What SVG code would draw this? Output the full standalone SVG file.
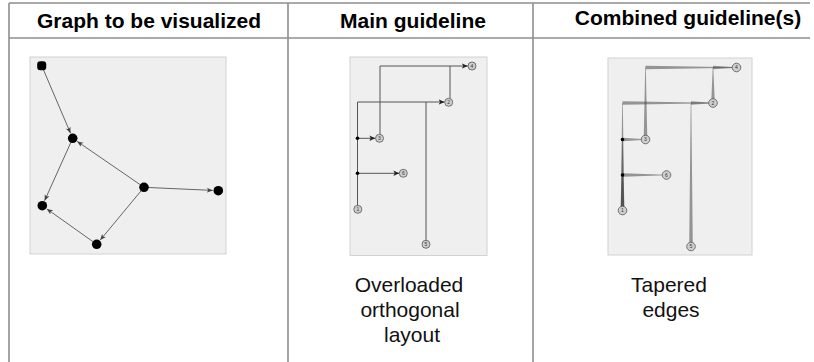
<svg xmlns="http://www.w3.org/2000/svg" width="814" height="362" viewBox="0 0 814 362">
<style>
.grid{stroke:#8e8e8e;stroke-width:1.6;fill:none}
.hdr{font-family:"Liberation Sans",Arial,sans-serif;font-weight:bold;font-size:21px;fill:#000;text-anchor:middle}
.cap{font-family:"Liberation Sans",Arial,sans-serif;font-size:21px;fill:#111;text-anchor:middle}
.panel{fill:#efefef;stroke:#d2d2d2;stroke-width:1}
.e1{stroke:#666;stroke-width:1;fill:none;marker-end:url(#a1)}
.e2{stroke:#555;stroke-width:1;fill:none}
.ea{marker-end:url(#a2)}
.n1{fill:#000}
.n2{fill:#cfcfcf;stroke:#555;stroke-width:0.8}
.lbl{font-family:"Liberation Sans",Arial,sans-serif;font-size:5px;fill:#333;text-anchor:middle}
.tp{fill:#3a3a3a;fill-opacity:0.5}
</style>
<defs>
<marker id="a1" markerUnits="userSpaceOnUse" markerWidth="7" markerHeight="6" refX="6" refY="3" orient="auto">
<path d="M0,0.5 L6,3 L0,5.5 L1.5,3 z" fill="#444"/>
</marker>
<marker id="a2" markerUnits="userSpaceOnUse" markerWidth="7" markerHeight="6" refX="6" refY="3" orient="auto">
<path d="M0,0.3 L6,3 L0,5.7 L1.5,3 z" fill="#222"/>
</marker>
</defs>
<g id="table">
<line class="grid" x1="9" y1="3" x2="810" y2="3"/>
<line class="grid" x1="9" y1="38" x2="810" y2="38"/>
<line class="grid" x1="9" y1="3" x2="9" y2="362"/>
<line class="grid" x1="288" y1="3" x2="288" y2="362"/>
<line class="grid" x1="533" y1="3" x2="533" y2="362"/>
<text class="hdr" x="149" y="28">Graph to be visualized</text>
<text class="hdr" x="413" y="28">Main guideline</text>
<text class="hdr" x="688" y="25">Combined guideline(s)</text>
<text class="cap" x="409" y="292">Overloaded</text>
<text class="cap" x="410" y="317">orthogonal</text>
<text class="cap" x="412" y="342">layout</text>
<text class="cap" x="669" y="292">Tapered</text>
<text class="cap" x="671" y="317">edges</text>
</g>
<g id="panel1">
<rect class="panel" x="30" y="57" width="196" height="197"/>
<g id="p1-connectors">
<line class="e1" x1="41.7" y1="65.7" x2="70.5" y2="133.2"/>
<line class="e1" x1="144" y1="187.3" x2="77.2" y2="141.4"/>
<line class="e1" x1="72.7" y1="138.3" x2="44.6" y2="200.7"/>
<line class="e1" x1="144" y1="187.3" x2="212.8" y2="190.4"/>
<line class="e1" x1="144" y1="187.3" x2="100.2" y2="240.1"/>
<line class="e1" x1="96.7" y1="244.3" x2="46.8" y2="208.9"/>
</g>
<g id="p1-nA"><rect class="n1" x="37.2" y="61.2" width="9" height="9" rx="3"/></g>
<g id="p1-nB"><circle class="n1" cx="72.7" cy="138.3" r="4.8"/></g>
<g id="p1-nC"><circle class="n1" cx="42.3" cy="205.7" r="4.8"/></g>
<g id="p1-nD"><circle class="n1" cx="144" cy="187.3" r="4.8"/></g>
<g id="p1-nE"><circle class="n1" cx="218.3" cy="190.7" r="4.8"/></g>
<g id="p1-nF"><circle class="n1" cx="96.7" cy="244.3" r="4.8"/></g>
</g>
<g id="panel2">
<rect class="panel" x="350" y="57" width="137" height="198.5"/>
<g id="p2-connectors">
<path class="e2 ea" d="M380,134.5 V66 H467.8"/>
<path class="e2" d="M450,98.5 V66"/>
<path class="e2 ea" d="M357.5,205.5 V102 H444.6"/>
<path class="e2" d="M426,240.5 V102"/>
<path class="e2 ea" d="M357.5,138.3 H375.3"/>
<path class="e2 ea" d="M357.5,173.3 H399.3"/>
<circle cx="357.5" cy="138.3" r="1.8" fill="#000"/>
<circle cx="357.5" cy="173.3" r="1.8" fill="#000"/>
</g>
<g id="p2-n4"><circle class="n2" cx="472" cy="66" r="4"/><text class="lbl" x="472" y="67.8">4</text></g>
<g id="p2-n2"><circle class="n2" cx="448.7" cy="102.3" r="4"/><text class="lbl" x="448.7" y="104.1">2</text></g>
<g id="p2-n3"><circle class="n2" cx="379.5" cy="138.3" r="4"/><text class="lbl" x="379.5" y="140.1">3</text></g>
<g id="p2-n6"><circle class="n2" cx="403.3" cy="173.3" r="4"/><text class="lbl" x="403.3" y="175.1">6</text></g>
<g id="p2-n1"><circle class="n2" cx="357.8" cy="209.3" r="4"/><text class="lbl" x="357.8" y="211.1">1</text></g>
<g id="p2-n5"><circle class="n2" cx="426" cy="244.3" r="4"/><text class="lbl" x="426" y="246.1">5</text></g>
</g>
<g id="panel3">
<rect class="panel" x="608" y="58" width="144" height="197"/>
<g id="p3-connectors">
<polygon class="tp" points="620.7,210.5 624.3,210.5 622.8,103 622.2,103"/>
<polygon class="tp" points="622.5,101.2 622.5,104.8 713,103.3 713,102.7"/>
<polygon class="tp" points="620.7,210.5 624.3,210.5 622.8,139.5 622.2,139.5"/>
<polygon class="tp" points="622.5,137.7 622.5,141.3 645.5,139.8 645.5,139.2"/>
<polygon class="tp" points="620.7,210.5 624.3,210.5 622.8,175 622.2,175"/>
<polygon class="tp" points="622.5,173.2 622.5,176.8 666.5,175.3 666.5,174.7"/>
<polygon class="tp" points="643.7,139.5 647.3,139.5 645.8,67.5 645.2,67.5"/>
<polygon class="tp" points="645.5,65.7 645.5,69.3 736.5,67.8 736.5,67.2"/>
<polygon class="tp" points="711.2,103 714.8,103 713.3,67.5 712.7,67.5"/>
<polygon class="tp" points="713,65.7 713,69.3 736.5,67.8 736.5,67.2"/>
<polygon class="tp" points="689.2,246.5 692.8,246.5 691.3,103 690.7,103"/>
<polygon class="tp" points="691,101.2 691,104.8 713,103.3 713,102.7"/>
<circle cx="622.5" cy="139.5" r="1.8" fill="#000"/>
<circle cx="622.5" cy="175" r="1.8" fill="#000"/>
</g>
<g id="p3-n4"><circle class="n2" cx="736.5" cy="67.5" r="4.3"/><text class="lbl" x="736.5" y="69.3">4</text></g>
<g id="p3-n2"><circle class="n2" cx="713" cy="103" r="4.3"/><text class="lbl" x="713" y="104.8">2</text></g>
<g id="p3-n3"><circle class="n2" cx="645.5" cy="139.5" r="4.3"/><text class="lbl" x="645.5" y="141.3">3</text></g>
<g id="p3-n6"><circle class="n2" cx="666.5" cy="175" r="4.3"/><text class="lbl" x="666.5" y="176.8">6</text></g>
<g id="p3-n1"><circle class="n2" cx="622.5" cy="210.5" r="4.3"/><text class="lbl" x="622.5" y="212.3">1</text></g>
<g id="p3-n5"><circle class="n2" cx="691" cy="246.5" r="4.3"/><text class="lbl" x="691" y="248.3">5</text></g>
</g>
</svg>
